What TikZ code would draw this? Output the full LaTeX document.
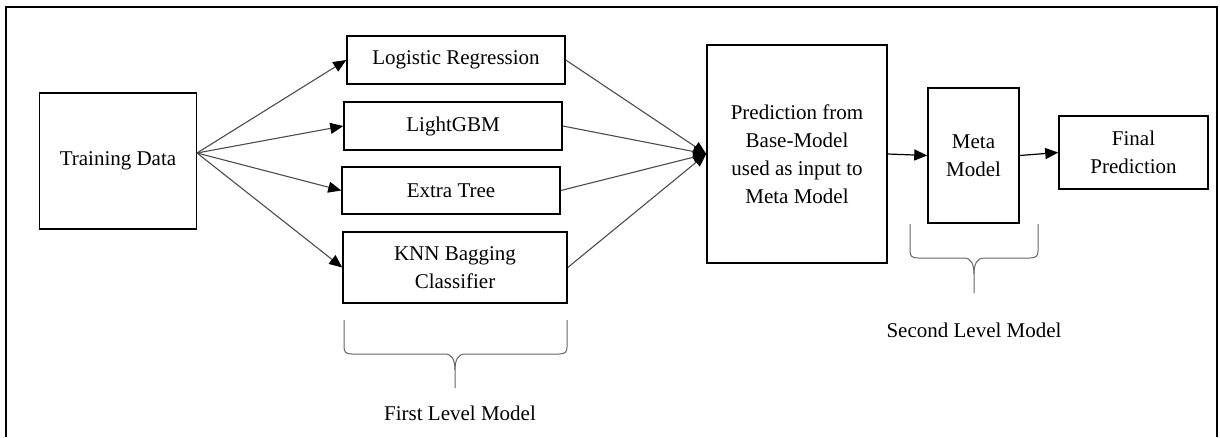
\documentclass[tikz,border=0pt]{standalone}
\usepackage{fontspec}
\setmainfont{Liberation Serif}
\usetikzlibrary{arrows.meta}

\tikzset{
    box/.style={draw, line width=1.5pt, inner sep=0pt, align=center, font=\fontsize{21}{28}\selectfont},
    caption/.style={inner sep=0pt, font=\fontsize{21}{28}\selectfont},
    fan/.style={draw=black!70, line width=1.1pt, -{Triangle[length=13pt,width=11pt,color=black]}},
    link/.style={line width=1.2pt, -{Triangle[length=13pt,width=11pt]}},
    brace/.style={draw=black!60, line width=1pt},
}

\begin{document}
\begin{tikzpicture}[x=1pt, y=-1pt]
    \useasboundingbox (0,0) rectangle (1220,437);
    \draw[line width=1.5pt] (6,437) -- (6,7) -- (1217,7) -- (1217,437);

    \node[box, minimum width=157pt, minimum height=136pt] (data) at (118,161) {Training Data};

    \node[box, minimum width=218pt, minimum height=48pt] (logreg) at (456,60) {Logistic Regression};
    \node[box, minimum width=218pt, minimum height=48pt] (lgbm) at (453,126) {LightGBM};
    \node[box, minimum width=218pt, minimum height=47pt] (extra) at (451,190.5) {Extra Tree};
    \node[box, minimum width=224pt, minimum height=71pt] (knn) at (455,267.5) {KNN Bagging\\Classifier};

    \node[box, minimum width=180pt, minimum height=218pt] (pred) at (797,154) {Prediction from\\Base-Model\\used as input to\\Meta Model};
    \node[box, minimum width=91pt, minimum height=135pt] (meta) at (973.5,155.5) {Meta\\Model};
    \node[box, minimum width=149pt, minimum height=73pt] (final) at (1133.5,152.5) {Final\\Prediction};

    \coordinate (split) at (197,153);
    \draw[fan] (split) -- (logreg.west);
    \draw[fan] (split) -- (lgbm.west);
    \draw[fan] (split) -- (extra.west);
    \draw[fan] (split) -- (knn.west);

    \draw[fan] (logreg.east) -- (pred.west);
    \draw[fan] (lgbm.east) -- (pred.west);
    \draw[fan] (extra.east) -- (pred.west);
    \draw[fan] (knn.east) -- (pred.west);

    \draw[link] (pred.east) -- (meta.west);
    \draw[link] (meta.east) -- (final.west);

    % braces under the two levels
    \draw[brace] (344,320) -- (344,347) .. controls (344,352) and (346,354) .. (352,354) -- (445,354) .. controls (452,354) and (455,360) .. (455,370) -- (455,388);
    \draw[brace] (567,320) -- (567,347) .. controls (567,352) and (565,354) .. (559,354) -- (465,354) .. controls (458,354) and (455,360) .. (455,370);
    \draw[brace] (910,224) -- (910,251) .. controls (910,256) and (912,258) .. (918,258) -- (964,258) .. controls (971,258) and (974,264) .. (974,274) -- (974,293);
    \draw[brace] (1038,224) -- (1038,251) .. controls (1038,256) and (1036,258) .. (1030,258) -- (984,258) .. controls (977,258) and (974,264) .. (974,274);

    \node[caption] (first) at (460,413) {First Level Model};
    \node[caption] (second) at (974,330) {Second Level Model};
\end{tikzpicture}
\end{document}
